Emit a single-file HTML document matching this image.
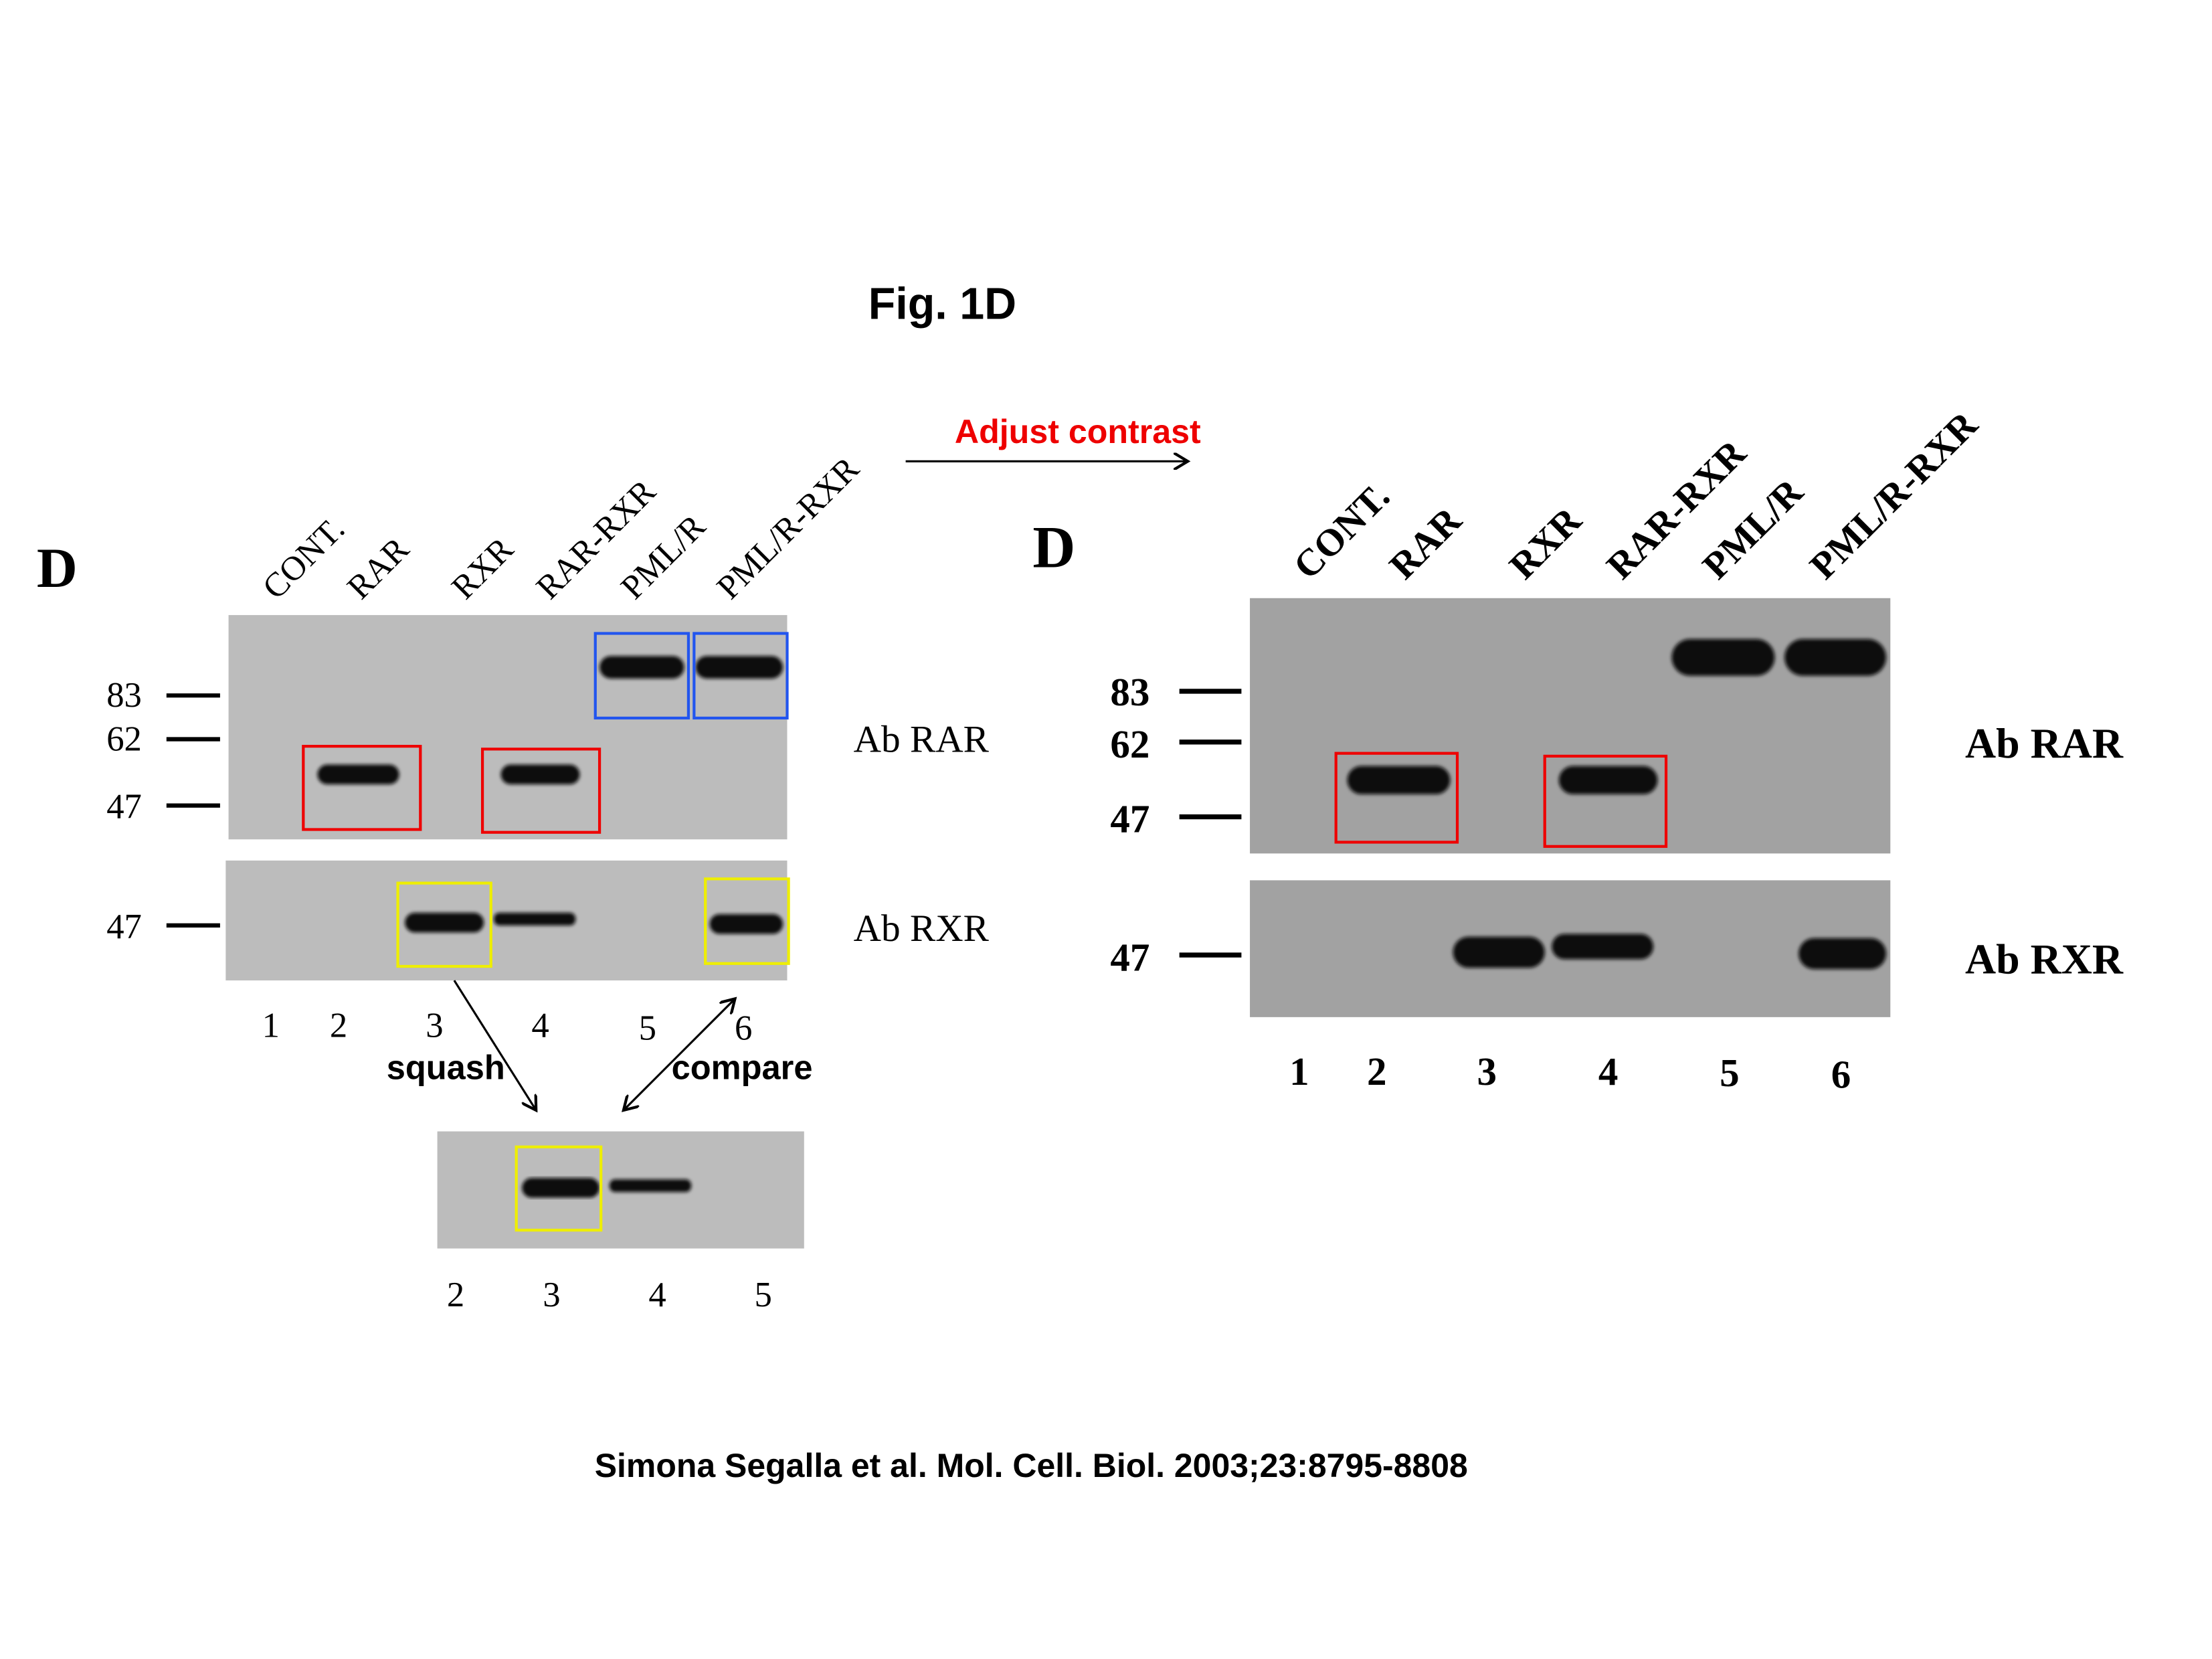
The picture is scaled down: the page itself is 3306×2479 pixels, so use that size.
<!DOCTYPE html>
<html><head><meta charset="utf-8"><style>
html,body{margin:0;padding:0;background:#fff;}
svg{display:block;}
.s{font-family:"Liberation Serif",serif;}
.a{font-family:"Liberation Sans",sans-serif;font-weight:bold;}
</style></head><body>
<svg width="3306" height="2479" viewBox="0 0 1568 1176" preserveAspectRatio="none" xmlns="http://www.w3.org/2000/svg">
<defs>
<marker id="ah" markerWidth="12" markerHeight="12" refX="10" refY="6" orient="auto" markerUnits="userSpaceOnUse"><path d="M0,0 L10,6 L0,12" fill="none" stroke="#000" stroke-width="2"/></marker>
<marker id="ahs" markerWidth="12" markerHeight="12" refX="2" refY="6" orient="auto" markerUnits="userSpaceOnUse"><path d="M12,0 L2,6 L12,12" fill="none" stroke="#000" stroke-width="2"/></marker>
<filter id="bl"><feGaussianBlur stdDeviation="1.2"/></filter>
</defs>
<rect width="1568" height="1176" fill="#fff"/>
<text x="668" y="226" class="a" font-size="31.5" text-anchor="middle">Fig. 1D</text>

<!-- LEFT -->
<text x="26" y="416" class="s" font-size="40" font-weight="bold">D</text>
<g class="s" font-size="24.2">
<text transform="translate(196,426) rotate(-45)">CONT.</text>
<text transform="translate(256,426) rotate(-45)">RAR</text>
<text transform="translate(330,426) rotate(-45)">RXR</text>
<text transform="translate(390,426) rotate(-45)">RAR-RXR</text>
<text transform="translate(450,426) rotate(-45)">PML/R</text>
<text transform="translate(518,426) rotate(-45)">PML/R-RXR</text>
</g>
<rect x="162" y="436" width="396" height="159" fill="#bcbcbc"/>
<rect x="160" y="610" width="398" height="85" fill="#bcbcbc"/>
<g filter="url(#bl)" fill="#111">
<rect x="225" y="542" width="58" height="14" rx="7"/>
<rect x="355" y="542" width="56" height="14" rx="7"/>
<rect x="425" y="465" width="60" height="16" rx="8"/>
<rect x="493" y="465" width="62" height="16" rx="8"/>
<rect x="287" y="647" width="56" height="14" rx="7"/>
<rect x="350" y="647" width="58" height="9" rx="4"/>
<rect x="503" y="648" width="52" height="14" rx="7"/>
</g>
<g fill="none" stroke-width="2">
<rect x="215" y="529" width="83" height="59" stroke="#e00"/>
<rect x="342" y="531" width="83" height="59" stroke="#e00"/>
<rect x="422" y="449" width="66" height="60" stroke="#2255ee"/>
<rect x="492" y="449" width="66" height="60" stroke="#2255ee"/>
<rect x="282" y="626" width="66" height="59" stroke="#ee0"/>
<rect x="500" y="623" width="59" height="60" stroke="#ee0"/>
</g>
<g stroke="#000" stroke-width="3">
<line x1="118" y1="493" x2="156" y2="493"/><line x1="118" y1="524" x2="156" y2="524"/>
<line x1="118" y1="571" x2="156" y2="571"/><line x1="118" y1="656" x2="156" y2="656"/>
</g>
<g class="s" font-size="25" text-anchor="middle">
<text x="88" y="501">83</text><text x="88" y="532">62</text><text x="88" y="580">47</text><text x="88" y="665">47</text>
<text x="192" y="735">1</text><text x="240" y="735">2</text><text x="308" y="735">3</text><text x="383" y="735">4</text><text x="459" y="737">5</text><text x="527" y="737">6</text>
</g>
<text x="605" y="533" class="s" font-size="27.2">Ab RAR</text>
<text x="605" y="667" class="s" font-size="27.2">Ab RXR</text>
<text x="274" y="765" class="a" font-size="24">squash</text>
<text x="476" y="765" class="a" font-size="24">compare</text>
<line x1="322" y1="695" x2="380" y2="787" stroke="#000" stroke-width="1.5" marker-end="url(#ah)"/>
<line x1="442" y1="787" x2="521" y2="708" stroke="#000" stroke-width="1.5" marker-end="url(#ah)" marker-start="url(#ahs)"/>
<rect x="310" y="802" width="260" height="83" fill="#bcbcbc"/>
<g filter="url(#bl)" fill="#111">
<rect x="370" y="835" width="55" height="14" rx="7"/>
<rect x="432" y="836" width="58" height="9" rx="4"/>
</g>
<rect x="366" y="813" width="60" height="59" fill="none" stroke="#ee0" stroke-width="2"/>
<g class="s" font-size="25" text-anchor="middle">
<text x="323" y="926">2</text><text x="391" y="926">3</text><text x="466" y="926">4</text><text x="541" y="926">5</text>
</g>

<!-- arrow -->
<text x="764" y="314" class="a" font-size="23.8" fill="#e00" text-anchor="middle">Adjust contrast</text>
<line x1="642" y1="327" x2="842" y2="327" stroke="#000" stroke-width="1.5" marker-end="url(#ah)"/>

<!-- RIGHT -->
<text x="732" y="402" class="s" font-size="42" font-weight="bold">D</text>
<g class="s" font-size="27" font-weight="bold">
<text transform="translate(928,412) rotate(-45)">CONT.</text>
<text transform="translate(996,412) rotate(-45)">RAR</text>
<text transform="translate(1081,412) rotate(-45)">RXR</text>
<text transform="translate(1150,412) rotate(-45)">RAR-RXR</text>
<text transform="translate(1218,412) rotate(-45)">PML/R</text>
<text transform="translate(1294,412) rotate(-45)">PML/R-RXR</text>
</g>
<rect x="886" y="424" width="454" height="181" fill="#a2a2a2"/>
<rect x="886" y="624" width="454" height="97" fill="#a2a2a2"/>
<g filter="url(#bl)" fill="#080808">
<rect x="955" y="543" width="73" height="20" rx="10"/>
<rect x="1105" y="543" width="70" height="20" rx="10"/>
<rect x="1185" y="453" width="73" height="26" rx="13"/>
<rect x="1265" y="453" width="72" height="26" rx="13"/>
<rect x="1030" y="664" width="65" height="22" rx="11"/>
<rect x="1100" y="662" width="72" height="18" rx="9"/>
<rect x="1275" y="665" width="62" height="22" rx="11"/>
</g>
<g fill="none" stroke="#e00" stroke-width="2">
<rect x="947" y="534" width="86" height="63"/>
<rect x="1095" y="536" width="86" height="64"/>
</g>
<g stroke="#000" stroke-width="3.5">
<line x1="836" y1="490" x2="880" y2="490"/><line x1="836" y1="526" x2="880" y2="526"/>
<line x1="836" y1="579" x2="880" y2="579"/><line x1="836" y1="677" x2="880" y2="677"/>
</g>
<g class="s" font-size="28" font-weight="bold" text-anchor="middle">
<text x="801" y="500">83</text><text x="801" y="537">62</text><text x="801" y="590">47</text><text x="801" y="688">47</text>
<text x="921" y="769">1</text><text x="976" y="769">2</text><text x="1054" y="769">3</text><text x="1140" y="769">4</text><text x="1226" y="770">5</text><text x="1305" y="771">6</text>
</g>
<text x="1393" y="537" class="s" font-size="30.3" font-weight="bold">Ab RAR</text>
<text x="1393" y="690" class="s" font-size="30.3" font-weight="bold">Ab RXR</text>

<text x="731" y="1047" class="a" font-size="23.7" text-anchor="middle">Simona Segalla et al. Mol. Cell. Biol. 2003;23:8795-8808</text>
</svg>
</body></html>
